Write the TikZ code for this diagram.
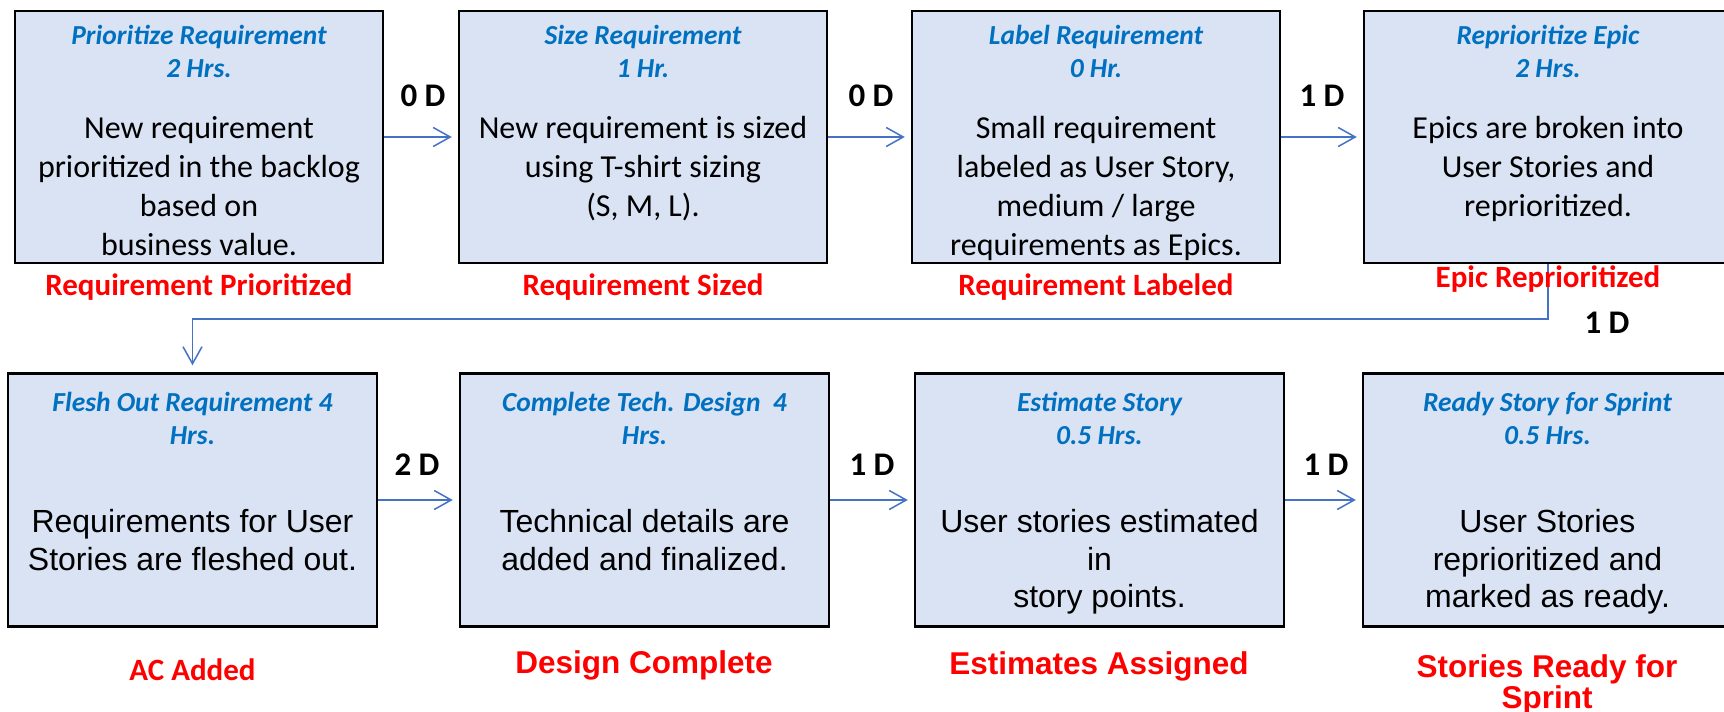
\documentclass[tikz,border=0pt]{standalone}
\usepackage{fontspec}
\newfontfamily\calfont{Carlito}
\newfontfamily\arifont{Liberation Sans}
\usetikzlibrary{arrows.meta}
\definecolor{boxfill}{HTML}{DAE3F3}
\definecolor{titleblue}{HTML}{0070C0}
\definecolor{arrblue}{HTML}{4472C4}
\definecolor{lblred}{HTML}{FF0000}
\tikzset{
  stepbox/.style={draw=black, line width=2.5pt, fill=boxfill, inner sep=0pt, minimum height=252pt},
  ttl/.style={anchor=north, align=center, inner sep=0pt, text=titleblue, font=\calfont\bfseries\itshape\fontsize{27.5}{33}\selectfont},
  bodyA/.style={anchor=north, align=center, inner sep=0pt, text=black, font=\calfont\fontsize{32}{39}\selectfont},
  bodyB/.style={anchor=north, align=center, inner sep=0pt, text=black, font=\arifont\fontsize{32}{37.5}\selectfont},
  redA/.style={anchor=base, inner sep=0pt, text=lblred, font=\calfont\bfseries\fontsize{31}{31}\selectfont},
  redB/.style={anchor=base, inner sep=0pt, text=lblred, font=\arifont\bfseries\fontsize{31.5}{31}\selectfont},
  dlbl/.style={anchor=base, inner sep=0pt, text=black, font=\calfont\bfseries\fontsize{33}{33}\selectfont},
  conn/.style={draw=arrblue, line width=1.5pt, -{Straight Barb[length=17pt,width=19pt,line width=1.5pt]}, shorten >=6pt}
}
\begin{document}
\begin{tikzpicture}[x=1pt,y=-1pt]
\useasboundingbox (0,0) rectangle (1724,712);
\fill[white] (0,0) rectangle (1724,712);
% boxes row 1
\node[stepbox, minimum width=368pt] (b1) at (199,137) {};
\node[stepbox, minimum width=368pt] (b2) at (643,137) {};
\node[stepbox, minimum width=368pt] (b3) at (1096,137) {};
\node[stepbox, minimum width=368pt] (b4) at (1548,137) {};
% boxes row 2
\node[stepbox, minimum width=369pt, minimum height=253pt] (b5) at (192.5,500) {};
\node[stepbox, minimum width=369pt, minimum height=253pt] (b6) at (644.5,500) {};
\node[stepbox, minimum width=369pt, minimum height=253pt] (b7) at (1099.5,500) {};
\node[stepbox, minimum width=369pt, minimum height=253pt] (b8) at (1547.5,500) {};
% connectors
\draw[conn] (b1) -- (b2);
\draw[conn] (b2) -- (b3);
\draw[conn] (b3) -- (b4);
\coordinate (elbow) at (0,319);
\draw[conn, shorten >=7pt] (b4.south) -- (b4.south |- elbow) -| (b5.north);
\draw[conn] (b5) -- (b6);
\draw[conn] (b6) -- (b7);
\draw[conn] (b7) -- (b8);
% titles
\node[ttl] (t1) at (199,22) {\rule{0pt}{22pt}Prioritize Requirement\\2 Hrs.};
\node[ttl] (t2) at (643,22) {\rule{0pt}{22pt}Size Requirement\\1 Hr.};
\node[ttl] (t3) at (1096,22) {\rule{0pt}{22pt}Label Requirement\\0 Hr.};
\node[ttl] (t4) at (1548,22) {\rule{0pt}{22pt}Reprioritize Epic\\2 Hrs.};
\node[ttl] (t5) at (192.5,389) {\rule{0pt}{22pt}Flesh Out Requirement 4\\Hrs.};
\node[ttl] (t6) at (644.5,389) {\rule{0pt}{22pt}Complete Tech. Design\ \ 4\\Hrs.};
\node[ttl] (t7) at (1099.5,389) {\rule{0pt}{22pt}Estimate Story\\0.5 Hrs.};
\node[ttl] (t8) at (1547.5,389) {\rule{0pt}{22pt}Ready Story for Sprint\\0.5 Hrs.};
% bodies
\node[bodyA] (d1) at (199,111) {\rule{0pt}{27pt}New requirement\\prioritized in the backlog\\based on\\business value.};
\node[bodyA] (d2) at (643,111) {\rule{0pt}{27pt}New requirement is sized\\using T-shirt sizing\\(S, M, L).};
\node[bodyA] (d3) at (1096,111) {\rule{0pt}{27pt}Small requirement\\labeled as User Story,\\medium / large\\requirements as Epics.};
\node[bodyA] (d4) at (1548,111) {\rule{0pt}{27pt}Epics are broken into\\User Stories and\\reprioritized.};
\node[bodyB] (d5) at (192.5,505.5) {\rule{0pt}{27pt}Requirements for User\\Stories are fleshed out.};
\node[bodyB] (d6) at (644.5,505.5) {\rule{0pt}{27pt}Technical details are\\added and finalized.};
\node[bodyB] (d7) at (1099.5,505.5) {\rule{0pt}{27pt}User stories estimated\\in\\story points.};
\node[bodyB] (d8) at (1547.5,505.5) {\rule{0pt}{27pt}User Stories\\reprioritized and\\marked as ready.};
% red labels
\node[redA] (r1) at (199,295) {Requirement Prioritized};
\node[redA] (r2) at (643,295) {Requirement Sized};
\node[redA] (r3) at (1096,295) {Requirement Labeled};
\node[redA] (r4) at (1548,287) {Epic Reprioritized};
\node[redA] (r5) at (192.5,680) {AC Added};
\node[redB] (r6) at (644,673) {Design Complete};
\node[redB] (r7) at (1099,674) {Estimates Assigned};
\node[redB, anchor=north, align=center, font=\arifont\bfseries\fontsize{31.5}{31}\selectfont] (r8) at (1547,652) {\rule{0pt}{25pt}Stories Ready for\\Sprint};
% day labels
\node[dlbl] (l1) at (423,106) {0 D};
\node[dlbl] (l2) at (871,106) {0 D};
\node[dlbl] (l3) at (1322,106) {1 D};
\node[dlbl] (l4) at (1607,333) {1 D};
\node[dlbl] (l5) at (417,475) {2 D};
\node[dlbl] (l6) at (872,475) {1 D};
\node[dlbl] (l7) at (1326,475) {1 D};
\end{tikzpicture}
\end{document}
